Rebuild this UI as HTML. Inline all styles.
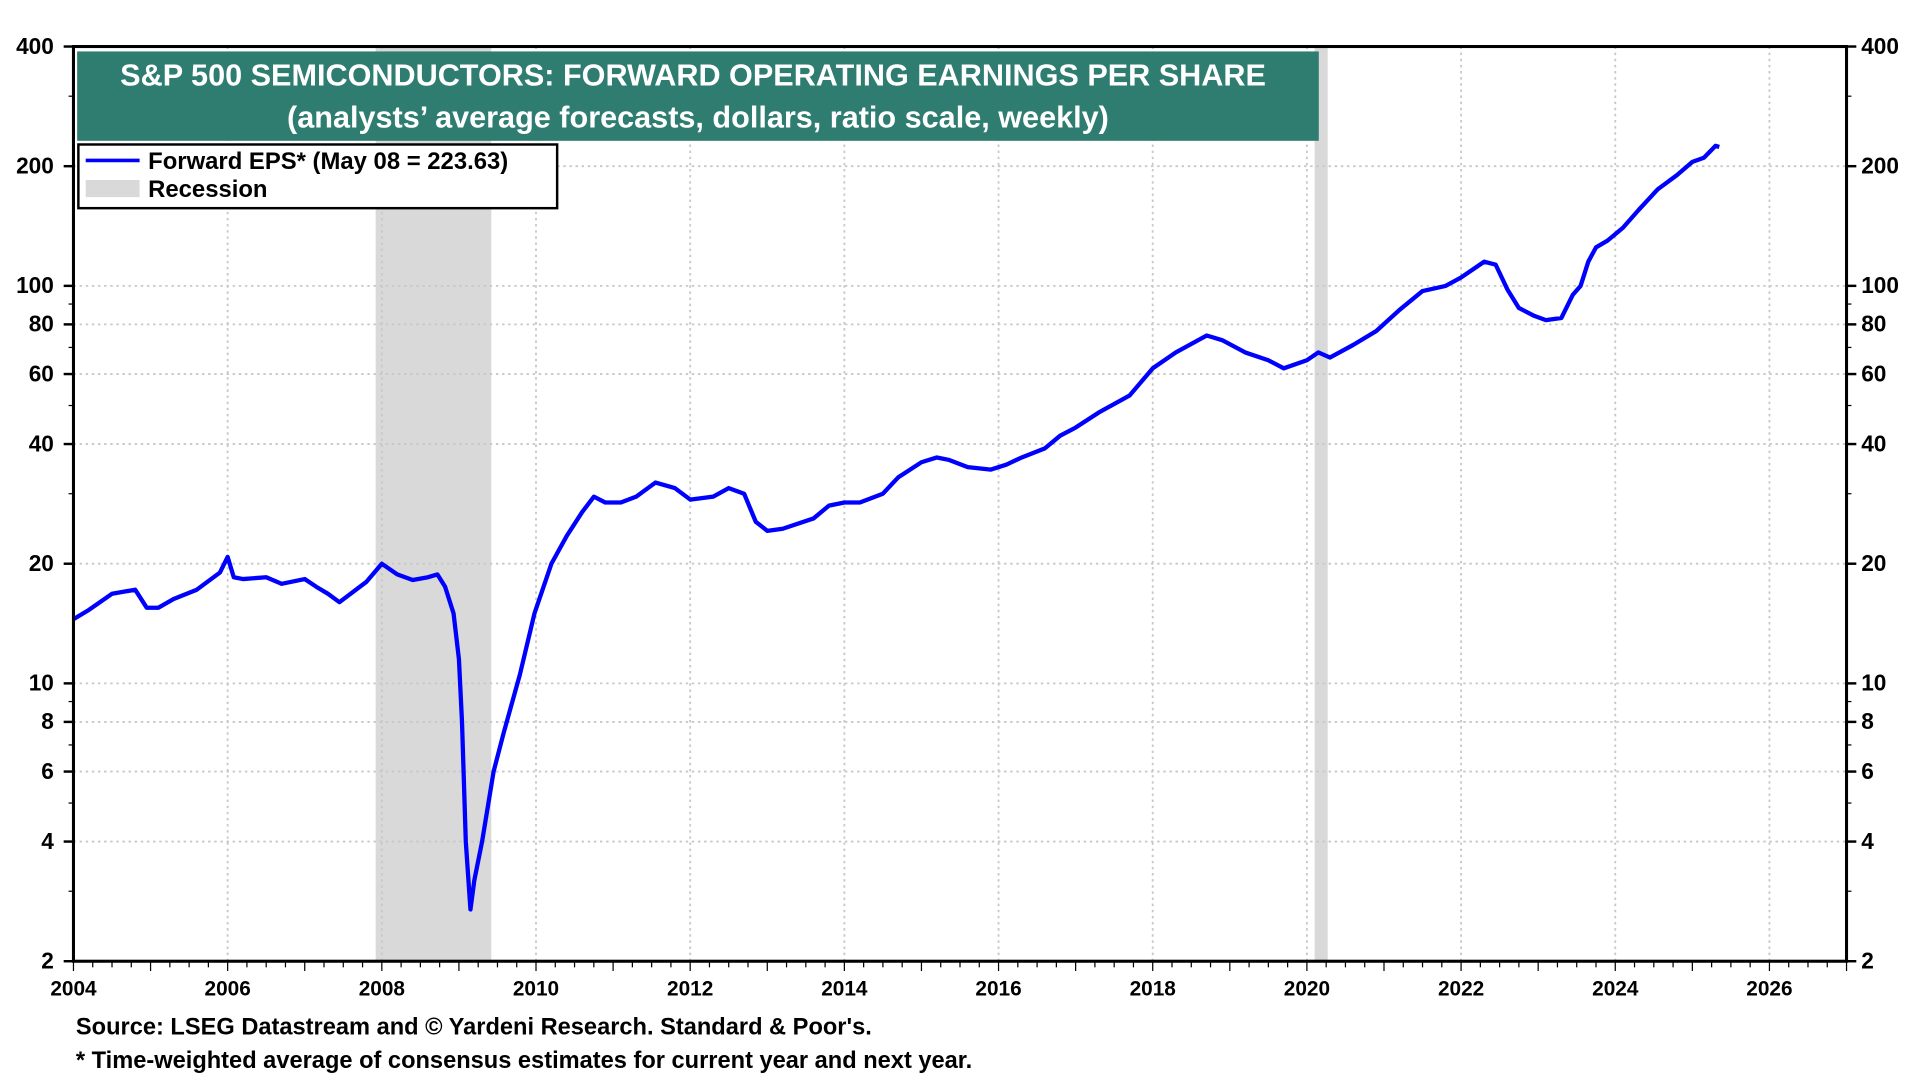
<!DOCTYPE html>
<html><head><meta charset="utf-8"><style>
html,body{margin:0;padding:0;background:#fff;}
svg{display:block;font-family:"Liberation Sans",Arial,sans-serif;font-weight:bold;}
</style></head><body>
<svg id="chart" width="1920" height="1080" viewBox="0 0 1568 882" xmlns="http://www.w3.org/2000/svg"></svg>
<script>
const dates = [2004.0,2004.2,2004.5,2004.8,2004.95,2005.1,2005.3,2005.6,2005.9,2006.0,2006.08,2006.2,2006.5,2006.7,2007.0,2007.15,2007.3,2007.45,2007.8,2008.0,2008.2,2008.4,2008.6,2008.72,2008.82,2008.93,2009.0,2009.04,2009.09,2009.15,2009.2,2009.3,2009.45,2009.58,2009.79,2009.98,2010.2,2010.4,2010.6,2010.75,2010.9,2011.1,2011.3,2011.55,2011.8,2012.0,2012.3,2012.5,2012.7,2012.85,2013.0,2013.2,2013.6,2013.8,2014.0,2014.2,2014.5,2014.7,2015.0,2015.2,2015.35,2015.6,2015.9,2016.1,2016.3,2016.6,2016.8,2017.0,2017.3,2017.7,2018.0,2018.3,2018.7,2018.9,2019.2,2019.5,2019.7,2020.0,2020.15,2020.3,2020.6,2020.9,2021.2,2021.5,2021.8,2022.0,2022.3,2022.45,2022.6,2022.75,2022.95,2023.1,2023.3,2023.45,2023.55,2023.65,2023.75,2023.9,2024.1,2024.3,2024.55,2024.8,2025.0,2025.15,2025.3,2025.35];
const eps = [14.5,15.3,16.8,17.2,15.5,15.5,16.3,17.2,19.0,20.8,18.5,18.3,18.5,17.8,18.3,17.5,16.8,16.0,18.0,20.0,18.8,18.2,18.5,18.8,17.5,15.0,11.5,8.0,4.0,2.7,3.2,4.0,6.0,7.5,10.5,15,20,23.5,27,29.5,28.5,28.5,29.5,32,31,29,29.5,31,30,25.5,24.2,24.5,26,28,28.5,28.5,30,33,36,37,36.5,35,34.5,35.5,37,39,42,44,48,53,62,68,75,73,68,65,62,65,68,66,71,77,87,97,100,105,115,113,98,88,84,82,83,95,100,115,125,130,140,155,175,190,205,210,225,223.63];
const yTicks = [400,200,100,80,60,40,20,10,8,6,4,2];
const xTickYears = [2004,2006,2008,2010,2012,2014,2016,2018,2020,2022,2024,2026];
const recessions = [[2007.92,2009.42],[2020.1,2020.27]];

const svg = document.getElementById('chart');
const NS = 'http://www.w3.org/2000/svg';
const L=60,R=1508,T=38,B=785;
const x = d => L + (d-2004)/(2027-2004)*(R-L);
const y = v => T + (Math.log10(400)-Math.log10(v))/(Math.log10(400)-Math.log10(2))*(B-T);
function mk(tag, attrs, parent){const e=document.createElementNS(NS,tag);for(const k in attrs)e.setAttribute(k,attrs[k]);(parent||svg).appendChild(e);return e;}

recessions.forEach(r=>{
  const e=mk('rect',{x:x(r[0]),y:T,width:x(r[1])-x(r[0]),height:B-T,fill:'#d9d9d9'});
  
  
});
yTicks.forEach(v=>{
  if(v===400||v===2) return;
  const e=mk('line',{x1:L,x2:R,y1:y(v),y2:y(v),stroke:'#c8c8c8','stroke-width':1.5,'stroke-dasharray':'2,3'});
  
  
});
xTickYears.forEach(yr=>{
  if(yr===2004) return;
  const e=mk('line',{x1:x(yr),x2:x(yr),y1:T,y2:B,stroke:'#c8c8c8','stroke-width':1.5,'stroke-dasharray':'2,3'});
  
  
});
for(const v of [2,3,4,5,6,7,8,9,10,20,30,40,50,60,70,80,90,100,200,300,400]){
  mk('line',{x1:L-4,x2:L,y1:y(v),y2:y(v),stroke:'#000','stroke-width':1});
  mk('line',{x1:R,x2:R+4,y1:y(v),y2:y(v),stroke:'#000','stroke-width':1});
}
for(let q=2004;q<=2027.001;q+=0.25){
  const big = Math.abs(q-Math.round(q))<1e-6;
  mk('line',{x1:x(q),x2:x(q),y1:B,y2:B+(big?8:5),stroke:'#000','stroke-width':1});
}
const pts = dates.map((d,i)=>x(d).toFixed(1)+','+y(eps[i]).toFixed(1)).join(' ');
const line = mk('polyline',{points:pts,fill:'none',stroke:'#0000ff','stroke-width':3.5,'stroke-linejoin':'round'});


const fr=mk('rect',{x:L,y:T,width:R-L,height:B-T,fill:'none',stroke:'#000','stroke-width':2.5});


yTicks.forEach(v=>{
  const a=mk('text',{x:L-16,y:y(v)+6,'text-anchor':'end','font-size':18.5});a.textContent=v;
  
  
  const b=mk('text',{x:R+12,y:y(v)+6,'text-anchor':'start','font-size':18.5});b.textContent=v;
  
  
  mk('line',{x1:L-8,x2:L,y1:y(v),y2:y(v),stroke:'#000','stroke-width':2});
  mk('line',{x1:R,x2:R+8,y1:y(v),y2:y(v),stroke:'#000','stroke-width':2});
});
xTickYears.forEach(yr=>{
  const t=mk('text',{x:x(yr),y:B+28,'text-anchor':'middle','font-size':17});t.textContent=yr;
  
  
});
const tb=mk('rect',{x:63,y:42,width:1014,height:73,fill:'#2e7d70'});


const t1=mk('text',{x:566,y:70,'text-anchor':'middle','font-size':25});t1.setAttribute('fill','#fff');t1.textContent='S&P 500 SEMICONDUCTORS: FORWARD OPERATING EARNINGS PER SHARE';


const t2=mk('text',{x:570,y:104,'text-anchor':'middle','font-size':25});t2.setAttribute('fill','#fff');t2.textContent='(analysts’ average forecasts, dollars, ratio scale, weekly)';


const lg=mk('g',{});


mk('rect',{x:64,y:118,width:391,height:52,fill:'#fff',stroke:'#000','stroke-width':2},lg);
mk('line',{x1:70,x2:114,y1:131,y2:131,stroke:'#0000ff','stroke-width':3},lg);
const l1=mk('text',{x:121,y:138,'font-size':19.5},lg);l1.textContent='Forward EPS* (May 08 = 223.63)';


mk('rect',{x:70,y:147,width:44,height:14,fill:'#d9d9d9'},lg);
const l2=mk('text',{x:121,y:161,'font-size':19.5},lg);l2.textContent='Recession';


const f1=mk('text',{x:62,y:845,'font-size':19.3});f1.textContent='Source: LSEG Datastream and © Yardeni Research. Standard & Poor\'s.';


const f2=mk('text',{x:62,y:872,'font-size':19.3});f2.textContent='* Time-weighted average of consensus estimates for current year and next year.';


</script>
</body></html>
